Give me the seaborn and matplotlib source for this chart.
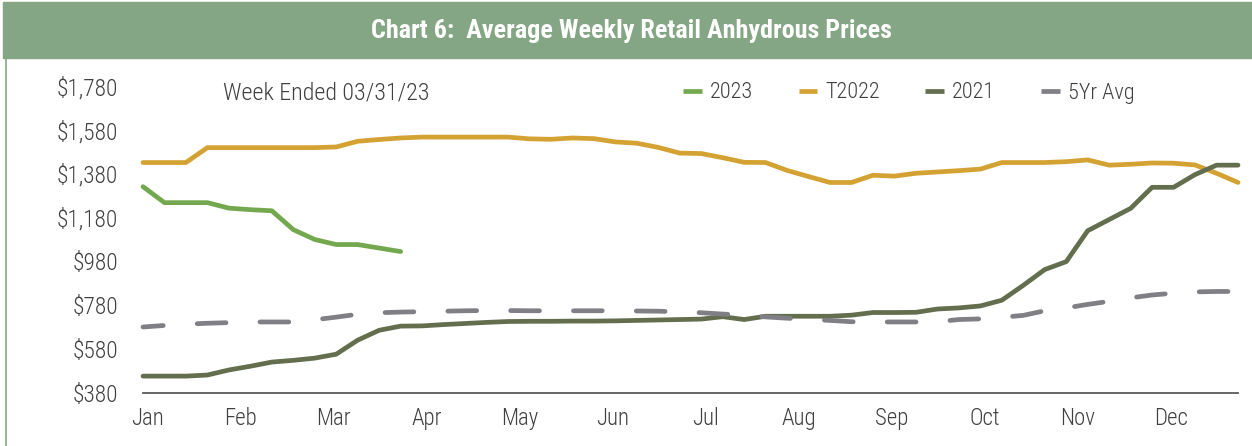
import numpy as np
import pandas as pd
import matplotlib
matplotlib.use('Agg')
import matplotlib.pyplot as plt
import seaborn as sns
from matplotlib import font_manager as fm
from matplotlib.patches import Rectangle
from matplotlib.lines import Line2D

# ── Data (weekly retail anhydrous, $/ton) ───────────────────────
months = ['Jan', 'Feb', 'Mar', 'Apr', 'May', 'Jun',
          'Jul', 'Aug', 'Sep', 'Oct', 'Nov', 'Dec']
y_ticks = [380, 580, 780, 980, 1180, 1380, 1580, 1780]

p2023 = [1321, 1248, 1248, 1248, 1223, 1216, 1211, 1125, 1080, 1057, 1057, 1041, 1025]

t2022 = [1431, 1431, 1431, 1499, 1499, 1499, 1499, 1499, 1499, 1502,
         1528, 1536, 1543, 1547, 1547, 1547, 1547, 1547, 1539, 1537,
         1543, 1540, 1525, 1519, 1500, 1474, 1472, 1453, 1432, 1431,
         1395, 1367, 1340, 1340, 1373, 1369, 1382, 1388, 1394, 1401,
         1431, 1431, 1431, 1435, 1443, 1419, 1423, 1429, 1428, 1420,
         1382, 1340]

p2021 = [457, 457, 457, 462, 485, 502, 521, 529, 539, 557,
         621, 666, 685, 686, 692, 697, 702, 706, 707, 707,
         708, 708, 709, 711, 713, 715, 717, 728, 715, 730,
         730, 730, 730, 735, 747, 747, 748, 763, 768, 777,
         803, 871, 943, 979, 1120, 1171, 1222, 1318, 1318, 1376,
         1419, 1419]

avg5 = [681, 688, 694, 698, 701, 704, 704, 704, 714, 726,
        739, 746, 749, 751, 753, 755, 756, 756, 755, 755,
        755, 755, 755, 754, 753, 750, 746, 740, 735, 727,
        721, 716, 711, 705, 704, 704, 704, 705, 715, 718,
        725, 734, 755, 768, 784, 798, 814, 827, 835, 841,
        843, 843]

# ── Fonts ───────────────────────────────────────────────────────
names = {f.name for f in fm.fontManager.ttflist}
cond = 'Roboto Condensed' if 'Roboto Condensed' in names else 'Roboto'

sns.set_theme(style='white')
plt.rcParams['font.family'] = [cond, 'DejaVu Sans']

txt = '#404040'
colors = {'2023': '#74A84F', 'T2022': '#D4A233', '2021': '#636E4E', '5Yr Avg': '#7F7F85'}

fig = plt.figure(figsize=(12.52, 4.46), dpi=100)

# title banner
fig.patches.append(Rectangle((0.002, 1 - 58 / 446), 1.0, 56 / 446,
                             transform=fig.transFigure, color='#85A684', zorder=0))
fig.add_artist(Line2D([6 / 1252, 6 / 1252], [0, 1 - 58 / 446],
                      transform=fig.transFigure, color='#85A684', lw=1.2))
fig.text(0.504, 1 - 31 / 446, 'Chart 6:  Average Weekly Retail Anhydrous Prices',
         ha='center', va='center', color='white', fontsize=18.8, fontweight='bold')

ax = fig.add_axes([143 / 1252, 1 - 393 / 446, (1238 - 143) / 1252, (393 - 86) / 446])

series = [('2023', p2023), ('T2022', t2022), ('2021', p2021), ('5Yr Avg', avg5)]
for name, vals in series:
    d = pd.DataFrame({'week': np.arange(len(vals)), 'price': vals})
    kw = dict(solid_capstyle='round', dash_capstyle='round')
    if name == '5Yr Avg':
        kw['linestyle'] = (1.8, (6.1, 7.2))
    sns.lineplot(data=d, x='week', y='price', ax=ax, color=colors[name],
                 linewidth=3.4, label=name, clip_on=False, **kw)

ax.set_xlim(0, 51)
ax.set_ylim(380, 1780)
ax.set_yticks(y_ticks)
ax.set_yticklabels([f'${v:,}' for v in y_ticks], fontweight='light')
ax.set_xticks(np.arange(12) * 52 / 12 + 0.2)
ax.set_xticklabels(months, fontweight='light')
ax.set_xlabel('')
ax.set_ylabel('')
ax.tick_params(axis='y', length=0, pad=18, labelsize=16.8, labelcolor=txt)
ax.tick_params(axis='x', length=0, pad=10, labelsize=16.5, labelcolor=txt)
for s in ['top', 'right', 'left']:
    ax.spines[s].set_visible(False)
ax.spines['bottom'].set_color('#595959')
ax.spines['bottom'].set_linewidth(1.3)
ax.grid(False)

fig.text(223 / 1252, 1 - 93 / 446, 'Week Ended 03/31/23', ha='left', va='center',
         color=txt, fontsize=17.3, fontweight='light')

leg = ax.legend(loc='center left', bbox_to_anchor=(672 / 1252, 1 - 93 / 446),
                bbox_transform=fig.transFigure, ncol=4, frameon=False,
                prop={'size': 16, 'weight': 'light'}, handlelength=0.85,
                handletextpad=0.35, columnspacing=2.05, borderpad=0)
for t in leg.get_texts():
    t.set_color(txt)
for h in leg.get_lines():
    h.set_linestyle('-')
    h.set_linewidth(3.4)
    h.set_solid_capstyle('butt')

fig.savefig('out.png', dpi=100)
